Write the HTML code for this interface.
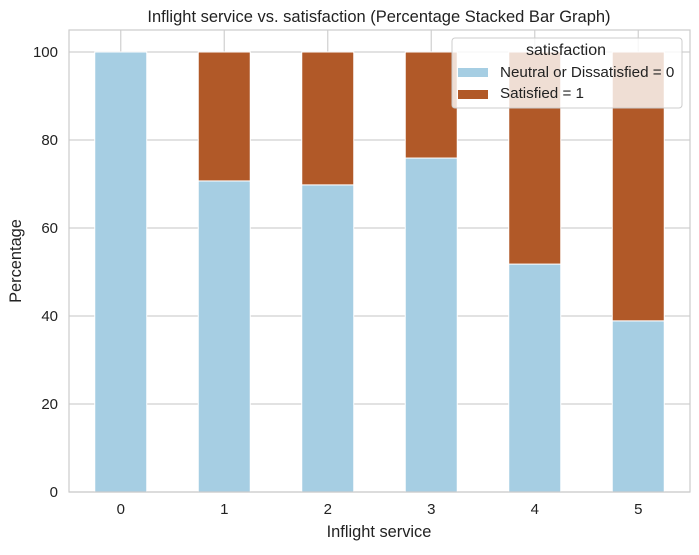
<!DOCTYPE html>
<html><head><meta charset="utf-8"><style>
body{margin:0;background:#fff;font-family:"Liberation Sans","DejaVu Sans",sans-serif;}
svg text{font-family:"Liberation Sans","DejaVu Sans",sans-serif;}
</style></head><body>
<svg id="chart" width="699" height="550" xmlns="http://www.w3.org/2000/svg">
<rect width="699" height="550" fill="#fff"/>
<text x="379" y="22" text-anchor="middle" font-size="16.5" fill="#222">Inflight service vs. satisfaction (Percentage Stacked Bar Graph)</text>
<g id="grid"></g>
<g id="bars"></g>
<rect x="69" y="30" width="621" height="462" fill="none" stroke="#ccc" stroke-width="1.2"/>
<g id="ticks"></g>
<text x="379" y="537" text-anchor="middle" font-size="16.4" fill="#222">Inflight service</text>
<text transform="translate(21,261) rotate(-90)" text-anchor="middle" font-size="16.4" fill="#222">Percentage</text>
<g>
<rect x="452" y="38" width="230" height="70" rx="3" fill="#fff" fill-opacity="0.8" stroke="#ccc"/>
<text x="566" y="55" text-anchor="middle" font-size="16" fill="#222">satisfaction</text>
<rect x="458" y="68" width="30" height="9" fill="#a6cee3"/>
<text x="500" y="77" font-size="15.2" fill="#222">Neutral or Dissatisfied = 0</text>
<rect x="458" y="90" width="30" height="9" fill="#b15928"/>
<text x="500" y="98" font-size="15.2" fill="#222">Satisfied = 1</text>
</g>
</svg>
<script>
const categories = ["0","1","2","3","4","5"];
const neutralPct = [100, 70.7, 69.8, 75.9, 51.8, 38.9];
const satisfiedPct = [0, 29.3, 30.2, 24.1, 48.2, 61.1];
const yTicks = [0,20,40,60,80,100];
const NS="http://www.w3.org/2000/svg";
const L=69,R=690,B=492,T=30;
const y=v=>B-v*4.4;
const step=(R-L)/categories.length;
const x=i=>L+step*(i+0.5);
const bw=52;
function mk(tag,attrs,parent){const e=document.createElementNS(NS,tag);for(const k in attrs)e.setAttribute(k,attrs[k]);parent.appendChild(e);return e;}
const grid=document.getElementById('grid'),bars=document.getElementById('bars'),ticks=document.getElementById('ticks');
yTicks.forEach(t=>{
 const g=mk('line',{x1:L,x2:R,y1:y(t),y2:y(t),stroke:'#d0d0d0','stroke-width':1.2},grid);
 
 
 const tx=mk('text',{x:L-11,y:y(t)+5,'text-anchor':'end','font-size':15,fill:'#222'},ticks);
 tx.textContent=t;
 
 
});
categories.forEach((c,i)=>{
 const gl=mk('line',{x1:x(i),x2:x(i),y1:T,y2:B,stroke:'#d0d0d0','stroke-width':1.2},grid);
 
 
 const b1=mk('rect',{x:x(i)-bw/2,y:y(neutralPct[i]),width:bw,height:B-y(neutralPct[i]),fill:'#a6cee3',stroke:'#fff','stroke-width':1},bars);
 
 
 const top=neutralPct[i]+satisfiedPct[i];
 const b2=mk('rect',{x:x(i)-bw/2,y:y(top),width:bw,height:y(neutralPct[i])-y(top),fill:'#b15928',stroke:'#fff','stroke-width':1},bars);
 
 
 const tx=mk('text',{x:x(i),y:B+22,'text-anchor':'middle','font-size':15,fill:'#222'},ticks);
 tx.textContent=c;
 
 
});
</script>
</body></html>
